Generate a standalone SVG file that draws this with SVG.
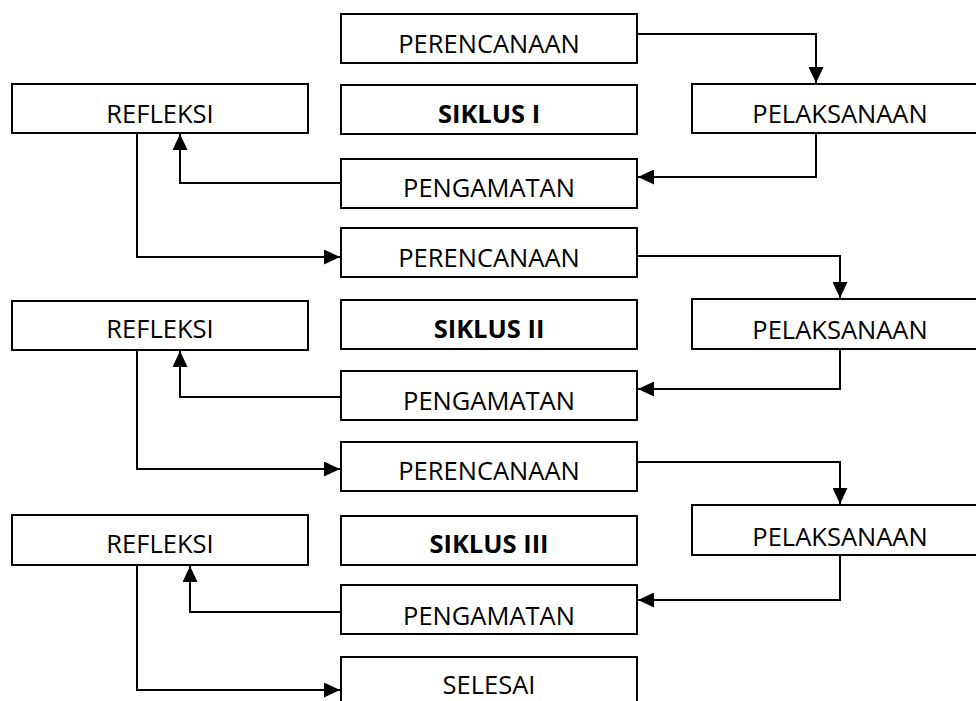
<svg xmlns="http://www.w3.org/2000/svg" width="976" height="701" viewBox="0 0 976 701">
<style>
.box{fill:#fff;stroke:#000;stroke-width:2}
.t{font-family:"Open Sans","Noto Sans",sans-serif;font-size:25.5px;fill:#000;text-anchor:middle}
.b{font-weight:bold}
.c{fill:none;stroke:#000;stroke-width:2}
</style>
<defs>
<marker id="arr" viewBox="0 0 16 15" refX="16" refY="7.5" markerWidth="16" markerHeight="15" markerUnits="userSpaceOnUse" orient="auto">
<path d="M0,0 L16,7.5 L0,15 Z" fill="#000"/>
</marker>
</defs>
<rect width="976" height="701" fill="#fff"/>
<g id="connectors">
<path class="c" d="M637,34 H816 V83" marker-end="url(#arr)"/>
<path class="c" d="M816,133 V177 H638" marker-end="url(#arr)"/>
<path class="c" d="M341,183 H180 V134" marker-end="url(#arr)"/>
<path class="c" d="M137,133 V257 H340" marker-end="url(#arr)"/>
<path class="c" d="M637,256 H840 V298" marker-end="url(#arr)"/>
<path class="c" d="M840,349 V389 H638" marker-end="url(#arr)"/>
<path class="c" d="M341,397 H180 V351" marker-end="url(#arr)"/>
<path class="c" d="M137,350 V469 H340" marker-end="url(#arr)"/>
<path class="c" d="M637,462 H840 V504" marker-end="url(#arr)"/>
<path class="c" d="M840,555 V600 H638" marker-end="url(#arr)"/>
<path class="c" d="M341,612 H190 V566" marker-end="url(#arr)"/>
<path class="c" d="M137,565 V690 H340" marker-end="url(#arr)"/>
</g>
<g id="perencanaan1"><rect class="box" x="341" y="14" width="296" height="49"/><text class="t" x="489" y="53">PERENCANAAN</text></g>
<g id="siklus1"><rect class="box" x="341" y="85" width="296" height="49"/><text class="t b" x="489" y="123">SIKLUS I</text></g>
<g id="pengamatan1"><rect class="box" x="341" y="159" width="296" height="49"/><text class="t" x="489" y="197">PENGAMATAN</text></g>
<g id="refleksi1"><rect class="box" x="12" y="84" width="296" height="49"/><text class="t" x="160" y="123">REFLEKSI</text></g>
<g id="pelaksanaan1"><rect class="box" x="692" y="84" width="296" height="49"/><text class="t" x="840" y="123">PELAKSANAAN</text></g>
<g id="perencanaan2"><rect class="box" x="341" y="228" width="296" height="49"/><text class="t" x="489" y="267">PERENCANAAN</text></g>
<g id="siklus2"><rect class="box" x="341" y="300" width="296" height="49"/><text class="t b" x="489" y="338">SIKLUS II</text></g>
<g id="pengamatan2"><rect class="box" x="341" y="371" width="296" height="49"/><text class="t" x="489" y="410">PENGAMATAN</text></g>
<g id="refleksi2"><rect class="box" x="12" y="301" width="296" height="49"/><text class="t" x="160" y="338">REFLEKSI</text></g>
<g id="pelaksanaan2"><rect class="box" x="692" y="299" width="296" height="50"/><text class="t" x="840" y="339">PELAKSANAAN</text></g>
<g id="perencanaan3"><rect class="box" x="341" y="442" width="296" height="49"/><text class="t" x="489" y="480">PERENCANAAN</text></g>
<g id="siklus3"><rect class="box" x="341" y="516" width="296" height="49"/><text class="t b" x="489" y="553">SIKLUS III</text></g>
<g id="pengamatan3"><rect class="box" x="341" y="585" width="296" height="49"/><text class="t" x="489" y="625">PENGAMATAN</text></g>
<g id="refleksi3"><rect class="box" x="12" y="515" width="296" height="50"/><text class="t" x="160" y="553">REFLEKSI</text></g>
<g id="pelaksanaan3"><rect class="box" x="692" y="505" width="296" height="50"/><text class="t" x="840" y="546">PELAKSANAAN</text></g>
<g id="selesai"><rect class="box" x="341" y="657" width="296" height="60"/><text class="t" x="489" y="694">SELESAI</text></g>
</svg>
